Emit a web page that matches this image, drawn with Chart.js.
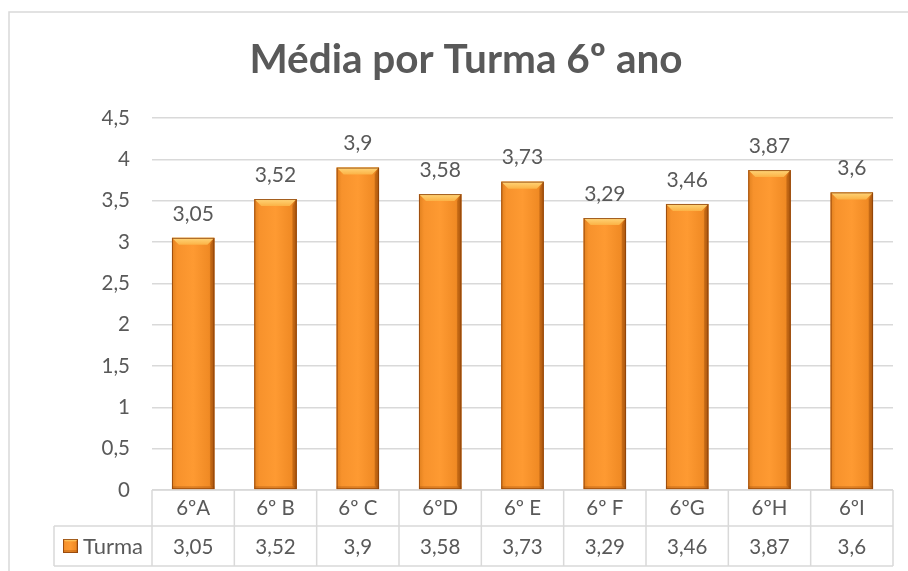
<!DOCTYPE html>
<html>
<head>
<meta charset="utf-8">
<script src="https://cdn.jsdelivr.net/npm/chart.js@4/dist/chart.umd.min.js"></script>
<style>
  html, body { margin: 0; padding: 0; background: #fff; }
  #wrap { width: 908px; height: 571px; }
</style>
</head>
<body>
<div id="wrap"><canvas id="grafico"></canvas></div>
<script>
// dados
const turmas = ['6ºA', '6º B', '6º C', '6ºD', '6º E', '6º F', '6ºG', '6ºH', '6ºI'];
const medias = [3.05, 3.52, 3.9, 3.58, 3.73, 3.29, 3.46, 3.87, 3.6];
const serieNome = 'Turma';
const tituloTexto = 'Média por Turma 6º ano';

const cinzaTexto = '#595959';
const cinzaLinha = '#D9D9D9';
const fonte = 'Lato, "Open Sans", sans-serif';

const virgula = v => String(v).replace('.', ',');

function pintaBarra(ctx, left, top, right, bottom) {
    const w = right - left;
    const b = Math.min(7, w / 6);
    // corpo
    const g = ctx.createLinearGradient(left, 0, right, 0);
    g.addColorStop(0, '#E0801E');
    g.addColorStop(0.12, '#F7922C');
    g.addColorStop(0.5, '#FE9A32');
    g.addColorStop(0.88, '#F08A24');
    g.addColorStop(1, '#B45E10');
    ctx.fillStyle = g;
    ctx.fillRect(left, top, w, bottom - top);
    // chanfro de cima
    const gt = ctx.createLinearGradient(0, top, 0, top + b);
    gt.addColorStop(0, '#FFD67A');
    gt.addColorStop(1, '#FBB245');
    ctx.fillStyle = gt;
    ctx.beginPath();
    ctx.moveTo(left, top);
    ctx.lineTo(right, top);
    ctx.lineTo(right - b, top + b);
    ctx.lineTo(left + b, top + b);
    ctx.closePath();
    ctx.fill();
    // lado direito mais escuro
    ctx.fillStyle = 'rgba(150,70,5,0.35)';
    ctx.beginPath();
    ctx.moveTo(right, top);
    ctx.lineTo(right, bottom);
    ctx.lineTo(right - b * 0.6, bottom - b * 0.6);
    ctx.lineTo(right - b * 0.6, top + b);
    ctx.closePath();
    ctx.fill();
    // base
    ctx.fillStyle = 'rgba(150,70,5,0.3)';
    ctx.fillRect(left, bottom - 3, w, 3);
    ctx.strokeStyle = 'rgba(140,65,10,0.8)';
    ctx.lineWidth = 1;
    ctx.strokeRect(left + 0.5, top + 0.5, w - 1, bottom - top - 1);
}

const moldura = {
    id: 'moldura',
    beforeDraw(chart) {
        const ctx = chart.ctx;
        ctx.save();
        ctx.fillStyle = '#fff';
        ctx.fillRect(0, 0, chart.width, chart.height);
        ctx.strokeStyle = cinzaLinha;
        ctx.lineWidth = 1.5;
        ctx.strokeRect(9, 12, chart.width + 20, chart.height + 20);
        // título
        ctx.fillStyle = cinzaTexto;
        ctx.font = 'bold 40.5px ' + fonte;
        ctx.textAlign = 'center';
        ctx.textBaseline = 'alphabetic';
        ctx.fillText(tituloTexto, 466, 73);
        ctx.restore();
    }
};

const barras3d = {
    id: 'barras3d',
    afterDatasetsDraw(chart) {
        const ctx = chart.ctx;
        const meta = chart.getDatasetMeta(0);
        ctx.save();
        meta.data.forEach((bar, i) => {
            const left = bar.x - bar.width / 2;
            const right = bar.x + bar.width / 2;
            pintaBarra(ctx, left, bar.y, right, bar.base);
            ctx.fillStyle = cinzaTexto;
            ctx.font = '21px ' + fonte;
            ctx.textAlign = 'center';
            ctx.textBaseline = 'middle';
            ctx.fillText(virgula(medias[i]), bar.x, bar.y - 24);
        });
        ctx.restore();
    }
};

const tabela = {
    id: 'tabela',
    afterDraw(chart) {
        const ctx = chart.ctx;
        const x = chart.scales.x;
        const area = chart.chartArea;
        const y0 = area.bottom;
        const y1 = y0 + 36;
        const y2 = y1 + 40;
        const passo = x.getPixelForValue(1) - x.getPixelForValue(0);
        const xEsq = x.getPixelForValue(0) - passo / 2;
        const xDir = x.getPixelForValue(turmas.length - 1) + passo / 2;
        const xLeg = 54;
        ctx.save();
        ctx.strokeStyle = cinzaLinha;
        ctx.lineWidth = 1.5;
        ctx.beginPath();
        ctx.moveTo(xEsq, y0); ctx.lineTo(xDir, y0);
        ctx.moveTo(xLeg, y1); ctx.lineTo(xDir, y1);
        ctx.moveTo(xLeg, y2); ctx.lineTo(xDir, y2);
        ctx.moveTo(xLeg, y1); ctx.lineTo(xLeg, y2);
        for (let i = 0; i <= turmas.length; i++) {
            const px = xEsq + passo * i;
            ctx.moveTo(px, y0); ctx.lineTo(px, y2);
        }
        ctx.stroke();

        ctx.fillStyle = cinzaTexto;
        ctx.font = '20.5px ' + fonte;
        ctx.textAlign = 'center';
        ctx.textBaseline = 'middle';
        turmas.forEach((t, i) => {
            const px = x.getPixelForValue(i);
            ctx.fillText(t, px, (y0 + y1) / 2);
            ctx.fillText(virgula(medias[i]), px, (y1 + y2) / 2 + 1);
        });

        // chave da legenda
        const ky = (y1 + y2) / 2;
        pintaBarra(ctx, 63, ky - 7, 78, ky + 7);
        ctx.fillStyle = cinzaTexto;
        ctx.textAlign = 'left';
        ctx.font = '22px ' + fonte;
        ctx.fillText(serieNome, 83, ky + 1);
        ctx.restore();
    }
};

new Chart(document.getElementById('grafico'), {
    type: 'bar',
    data: {
        labels: turmas,
        datasets: [{
            label: serieNome,
            data: medias,
            backgroundColor: '#F7922C',
            categoryPercentage: 1,
            barPercentage: 0.515
        }]
    },
    options: {
        responsive: true,
        maintainAspectRatio: false,
        animation: false,
        layout: { padding: { top: 118, right: 15, bottom: 81, left: 0 } },
        plugins: {
            legend: { display: false },
            tooltip: { enabled: false },
            title: { display: false }
        },
        scales: {
            x: { display: false },
            y: {
                min: 0,
                max: 4.5,
                border: { display: false },
                grid: { color: cinzaLinha, lineWidth: 1.5, drawTicks: false },
                ticks: {
                    stepSize: 0.5,
                    padding: 22,
                    color: cinzaTexto,
                    font: { family: fonte, size: 20.5 },
                    callback: v => virgula(v)
                },
                afterFit(scale) { scale.width = 152; }
            }
        }
    },
    plugins: [moldura, barras3d, tabela]
});
</script>
</body>
</html>
